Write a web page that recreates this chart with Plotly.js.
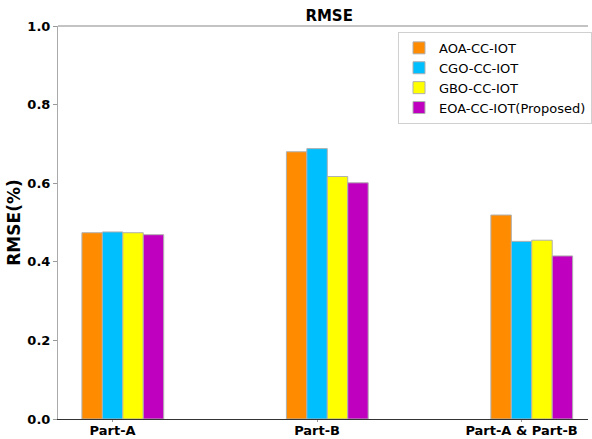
<!DOCTYPE html>
<html>
<head>
<meta charset="utf-8">
<script src="https://cdn.plot.ly/plotly-3.0.1.min.js"></script>
<style>html,body{margin:0;padding:0;overflow:hidden;background:#fff;}</style>
</head>
<body>
<div id="chart" style="width:592px;height:439px;"></div>
<script>
const categories = ["Part-A", "Part-B", "Part-A & Part-B"];
const seriesNames = ["AOA-CC-IOT", "CGO-CC-IOT", "GBO-CC-IOT", "EOA-CC-IOT(Proposed)"];
const aoa = [0.474, 0.680, 0.519];
const cgo = [0.476, 0.688, 0.452];
const gbo = [0.474, 0.617, 0.455];
const eoa = [0.469, 0.601, 0.415];
const yTicks = [0, 0.2, 0.4, 0.6, 0.8, 1.0];
const yTickText = ["0.0", "0.2", "0.4", "0.6", "0.8", "1.0"];

const colors = ["#FF8C00", "#00BFFF", "#FFFF00", "#BF00BF"];
const offsets = [-0.15, -0.05, 0.05, 0.15];
const allSeries = [aoa, cgo, gbo, eoa];
const xIdx = categories.map((c, i) => i);

const traces = allSeries.map((vals, k) => ({
  type: "bar",
  name: seriesNames[k],
  x: xIdx,
  y: vals,
  width: 0.1,
  offset: offsets[k],
  marker: {color: colors[k], line: {color: "#b0b0b0", width: 1}},
  hoverinfo: "none"
}));

const layout = {
  width: 592,
  height: 439,
  margin: {l: 58, r: 0, t: 26, b: 20, pad: 0},
  paper_bgcolor: "#fff",
  plot_bgcolor: "#fff",
  barmode: "overlay",
  showlegend: true,
  font: {family: "DejaVu Sans", color: "#000"},
  title: {
    text: "<b>RMSE</b>",
    font: {family: "DejaVu Sans", size: 15, color: "#000"},
    xref: "container", x: 0.556, xanchor: "center",
    yref: "container", y: 0.963, yanchor: "middle"
  },
  xaxis: {
    range: [-0.267, 2.325],
    tickvals: xIdx,
    ticktext: categories.map(c => "<b>" + c + "</b>"),
    tickfont: {family: "DejaVu Sans", size: 13, color: "#000"},
    ticks: "outside", ticklen: 2, tickcolor: "#999", tickwidth: 1,
    ticklabelstandoff: -3,
    showline: true, linecolor: "#333", linewidth: 1,
    showgrid: false, zeroline: false, fixedrange: true
  },
  yaxis: {
    range: [0, 1.0],
    tickvals: yTicks,
    ticktext: yTickText.map(t => "<b>" + t + "</b>"),
    tickfont: {family: "DejaVu Sans", size: 13, color: "#000"},
    ticks: "outside", ticklen: 4, tickcolor: "#999", tickwidth: 1,
    showline: true, linecolor: "#aaa", linewidth: 1,
    showgrid: false, zeroline: false, fixedrange: true,
    title: {text: "<b>RMSE(%)</b>", font: {family: "DejaVu Sans", size: 17, color: "#000"}, standoff: 2}
  },
  shapes: [{
    type: "line", xref: "paper", yref: "paper",
    x0: 0, x1: 1, y0: 1, y1: 1,
    line: {color: "#888", width: 1}
  }],
  legend: {
    x: 0.642, y: 0.985, xanchor: "left", yanchor: "top",
    bgcolor: "rgba(255,255,255,0.9)",
    bordercolor: "#d0d0d0", borderwidth: 1,
    font: {family: "DejaVu Sans", size: 13, color: "#000"},
    tracegroupgap: 0
  }
};

Plotly.newPlot("chart", traces, layout, {displayModeBar: false, staticPlot: true});
</script>
</body>
</html>
